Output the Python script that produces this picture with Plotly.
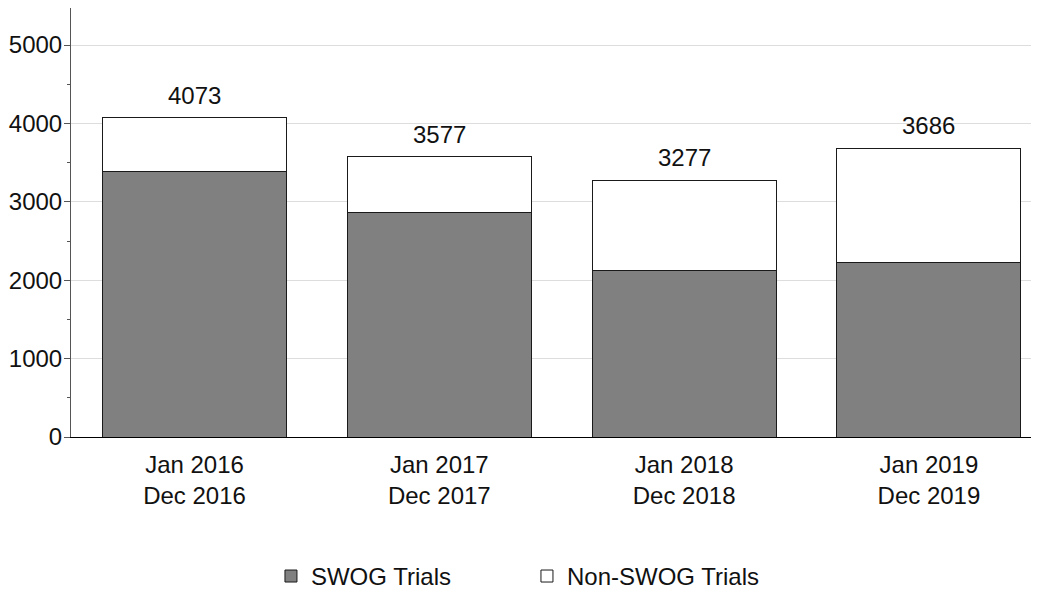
import plotly.graph_objects as go

categories = ["Jan 2016<br>Dec 2016", "Jan 2017<br>Dec 2017", "Jan 2018<br>Dec 2018", "Jan 2019<br>Dec 2019"]
swog = [3384, 2866, 2130, 2223]
totals = [4073, 3577, 3277, 3686]
non_swog = [t - s for t, s in zip(totals, swog)]

FS = 24

fig = go.Figure()
fig.add_trace(go.Bar(x=categories, y=swog, name="SWOG Trials",
                     marker=dict(color="#808080", line=dict(color="#1a1a1a", width=1))))
fig.add_trace(go.Bar(x=categories, y=non_swog, name="Non-SWOG Trials",
                     marker=dict(color="#ffffff", line=dict(color="#1a1a1a", width=1))))

for c, t in zip(categories, totals):
    fig.add_annotation(x=c, y=t, text=str(t), showarrow=False, yanchor="bottom",
                       yshift=7, font=dict(size=FS, color="#111111"))

# page body has an 8px margin, so the figure is drawn 8px smaller and shifted
fig.update_layout(
    barmode="stack",
    bargap=0.248,
    width=1031, height=582,
    margin=dict(l=63, r=2, t=0, b=153, autoexpand=False),
    paper_bgcolor="white", plot_bgcolor="white",
    font=dict(family="Liberation Sans, Arial, sans-serif", size=FS, color="#111111"),
    legend=dict(orientation="h", x=0.207, xanchor="left", y=-0.325, yanchor="middle",
                font=dict(size=FS), traceorder="normal", entrywidth=211,
                entrywidthmode="pixels"),
    xaxis=dict(showline=True, linecolor="#000000", linewidth=1, mirror=True,
               ticks="", tickfont=dict(size=FS), automargin=False,
               ticklabelstandoff=6, range=[-0.5045, 3.4415]),
    yaxis=dict(range=[0, 5472], tickvals=[0, 1000, 2000, 3000, 4000, 5000],
               showline=True, linecolor="#555555", linewidth=1, mirror=True,
               ticks="outside", ticklen=6, tickcolor="#555555",
               minor=dict(tickvals=[500, 1500, 2500, 3500, 4500], ticks="outside",
                          ticklen=3, tickcolor="#555555", showgrid=False),
               gridcolor="#dddddd", zeroline=False, tickfont=dict(size=FS),
               automargin=False, ticklabelstandoff=-3),
    showlegend=True,
)

fig.write_html("out.html")
